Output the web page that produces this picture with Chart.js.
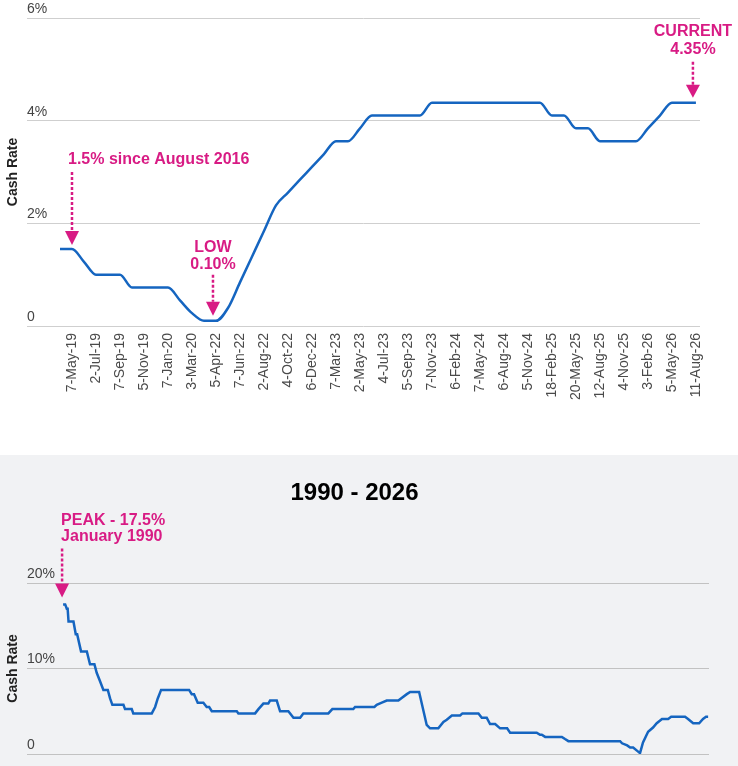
<!DOCTYPE html>
<html>
<head>
<meta charset="utf-8">
<title>Cash Rate</title>
<script src="https://cdn.jsdelivr.net/npm/chart.js@4.4.1/dist/chart.umd.min.js"></script>
<style>
  html, body { margin: 0; padding: 0; background: #fff; }
  #recent { position: relative; width: 738px; height: 455px; background: #fff; }
  #history { position: relative; width: 738px; height: 311px; background: #f1f2f4; }
</style>
</head>
<body>
<div id="recent"><canvas id="chartRecent"></canvas></div>
<div id="history"><canvas id="chartHistory"></canvas></div>
<script>
// meeting dates printed under the top chart (every second meeting)
const recentLabels = ['7-May-19', '2-Jul-19', '7-Sep-19', '5-Nov-19', '7-Jan-20', '3-Mar-20',
  '5-Apr-22', '7-Jun-22', '2-Aug-22', '4-Oct-22', '6-Dec-22', '7-Mar-23', '2-May-23',
  '4-Jul-23', '5-Sep-23', '7-Nov-23', '6-Feb-24', '7-May-24', '6-Aug-24', '5-Nov-24',
  '18-Feb-25', '20-May-25', '12-Aug-25', '4-Nov-25', '3-Feb-26', '5-May-26', '11-Aug-26'];
// cash rate at every meeting, half a label apart, starting one meeting before 7-May-19
const recentRates = [1.5, 1.5, 1.25, 1.0, 1.0, 1.0, 0.75, 0.75, 0.75, 0.75,
  0.5, 0.25, 0.1, 0.1, 0.35, 0.85, 1.35, 1.85, 2.35, 2.6,
  2.85, 3.1, 3.35, 3.6, 3.6, 3.85, 4.1, 4.1, 4.1, 4.1,
  4.1, 4.35, 4.35, 4.35, 4.35, 4.35, 4.35, 4.35, 4.35, 4.35,
  4.35, 4.1, 4.1, 3.85, 3.85, 3.6, 3.6, 3.6, 3.6, 3.85,
  4.1, 4.35, 4.35, 4.35];
const recentTicks = [0, 2, 4, 6];

// 1990 - 2026: position along the timeline (years) and rate
const historyPos = [1990.00, 1990.12, 1990.21, 1990.26, 1990.31, 1990.59, 1990.72, 1990.80, 1990.91, 1991.02,
  1991.35, 1991.53, 1991.78, 1991.91, 1992.10, 1992.29, 1992.54, 1992.67, 1992.80, 1993.43,
  1993.52, 1993.90, 1993.99, 1995.04, 1995.23, 1995.38, 1995.57, 1997.16, 1997.31, 1997.44,
  1997.65, 1997.97, 1998.16, 1998.30, 1998.45, 1999.87, 1999.96, 2000.91, 2001.10, 2001.38,
  2001.66, 2001.76, 2002.14, 2002.33, 2002.80, 2003.09, 2003.47, 2003.65, 2005.07, 2005.30,
  2006.49, 2006.59, 2007.69, 2007.82, 2008.11, 2008.39, 2009.05, 2009.20, 2009.53, 2009.72,
  2010.23, 2010.66, 2010.85, 2011.32, 2011.61, 2011.80, 2012.09, 2012.56, 2012.69, 2013.60,
  2013.79, 2014.07, 2014.26, 2014.55, 2014.83, 2015.23, 2015.40, 2016.91, 2017.10, 2017.20,
  2017.39, 2018.34, 2018.52, 2018.71, 2021.65, 2021.76, 2022.05, 2022.22, 2022.39, 2022.69,
  2022.78, 2022.95, 2023.24, 2023.52, 2023.73, 2024.03, 2024.38, 2024.55, 2025.34, 2025.51,
  2025.80, 2026.14, 2026.36, 2026.53, 2026.65];
const historyRates = [17.5, 17.5, 17.0, 17.0, 15.5, 15.5, 14.0, 14.0, 13.0, 12.0,
  12.0, 10.5, 10.5, 9.5, 8.5, 7.5, 7.5, 6.5, 5.75, 5.75,
  5.25, 5.25, 4.75, 4.75, 5.5, 6.5, 7.5, 7.5, 7.0, 7.0,
  6.0, 6.0, 5.5, 5.5, 5.0, 5.0, 4.75, 4.75, 5.25, 5.9,
  5.9, 6.25, 6.25, 5.0, 5.0, 4.25, 4.25, 4.75, 4.75, 5.25,
  5.25, 5.5, 5.5, 5.75, 6.0, 6.25, 6.25, 6.5, 7.0, 7.25,
  7.25, 3.4, 3.0, 3.0, 3.75, 4.0, 4.5, 4.5, 4.75, 4.75,
  4.25, 4.25, 3.5, 3.5, 3.0, 3.0, 2.5, 2.5, 2.25, 2.25,
  2.0, 2.0, 1.75, 1.5, 1.5, 1.25, 1.0, 0.75, 0.75, 0.25,
  0.1, 1.35, 2.6, 3.1, 3.6, 4.1, 4.1, 4.35, 4.35, 4.1,
  3.6, 3.6, 4.1, 4.35, 4.35];
const historyTicks = [0, 10, 20];

const FONT = '"Liberation Sans", Arial, sans-serif';
const LINE_BLUE = '#1565c0';
const PINK = '#d81b84';

// dotted arrows with bold notes, anchored on data values
const arrowNotes = {
  id: 'arrowNotes',
  afterDatasetsDraw(chart, args, opts) {
    const ctx = chart.ctx;
    const xs = chart.scales.x, ys = chart.scales.y;
    ctx.save();
    for (const n of opts.items) {
      const px = xs.getPixelForValue(n.x) + (n.dx || 0);
      const py = ys.getPixelForValue(n.y);
      const tip = py - n.gap;
      const headTop = tip - n.head;
      ctx.strokeStyle = PINK;
      ctx.lineWidth = 2.5;
      ctx.setLineDash([3, 2]);
      ctx.beginPath();
      ctx.moveTo(px, headTop - n.shaft);
      ctx.lineTo(px, headTop);
      ctx.stroke();
      ctx.setLineDash([]);
      ctx.fillStyle = PINK;
      ctx.beginPath();
      ctx.moveTo(px - 7, headTop);
      ctx.lineTo(px + 7, headTop);
      ctx.lineTo(px, tip);
      ctx.closePath();
      ctx.fill();
      ctx.font = 'bold 16px ' + FONT;
      ctx.textAlign = n.align;
      ctx.textBaseline = 'middle';
      const last = n.lines.length - 1;
      n.lines.forEach((line, i) => {
        ctx.fillText(line, px + (n.textDx || 0), py - n.textRise - (last - i) * (n.lineGap || 17));
      });
    }
    ctx.restore();
  }
};

function yAxis(min, max, ticks, gridColor) {
  return {
    min: min,
    max: max,
    afterBuildTicks: s => { s.ticks = ticks.map(v => ({ value: v })); },
    afterFit: s => { s.width = 27; },
    border: { display: false },
    grid: { color: gridColor, drawTicks: false },
    ticks: {
      mirror: true,
      padding: 0,
      labelOffset: -9,
      color: '#444',
      font: { family: FONT, size: 14 },
      callback: v => v === 0 ? '0' : v + '%'
    },
    title: {
      display: true,
      text: 'Cash Rate',
      color: '#222',
      font: { family: FONT, size: 14, weight: 'bold' },
      padding: { top: 5, bottom: 0 }
    }
  };
}

// top chart: recent meetings
new Chart(document.getElementById('chartRecent'), {
  type: 'line',
  data: {
    datasets: [{
      label: 'Cash Rate',
      data: recentRates.map((r, i) => ({ x: (i - 1) / 2, y: r })),
      borderColor: LINE_BLUE,
      borderWidth: 2.5,
      pointRadius: 0,
      cubicInterpolationMode: 'monotone',
      fill: false
    }]
  },
  options: {
    responsive: true,
    maintainAspectRatio: false,
    animation: false,
    layout: { padding: { top: 18, right: 38, left: 0, bottom: 0 } },
    plugins: {
      legend: { display: false },
      tooltip: { enabled: false },
      arrowNotes: {
        items: [
          { x: 0, y: 1.5, gap: 4, head: 14, shaft: 59, textRise: 89, textDx: -4, align: 'left',
            lines: ['1.5% since August 2016'] },
          { x: 6, y: 0.1, dx: -3, gap: 5, head: 14, shaft: 27, textRise: 56, lineGap: 17, align: 'center',
            lines: ['LOW', '0.10%'] },
          { x: 26, y: 4.35, dx: -3, gap: 5, head: 13, shaft: 23, textRise: 53, lineGap: 18, align: 'center',
            lines: ['CURRENT', '4.35%'] }
        ]
      }
    },
    scales: {
      x: {
        type: 'linear',
        min: -1.875,
        max: 26.17,
        afterBuildTicks: s => { s.ticks = recentLabels.map((_, i) => ({ value: i })); },
        afterFit: s => { s.height = 129; },
        border: { display: false },
        grid: { display: false, drawTicks: false },
        ticks: {
          autoSkip: false,
          minRotation: 90,
          maxRotation: 90,
          padding: 7,
          color: '#4a4a4a',
          font: { family: FONT, size: 14 },
          callback: v => recentLabels[v]
        }
      },
      y: yAxis(0, 6, recentTicks, '#cfcfcf')
    }
  },
  plugins: [arrowNotes]
});

// bottom chart: 1990 - 2026
new Chart(document.getElementById('chartHistory'), {
  type: 'line',
  data: {
    datasets: [{
      label: 'Cash Rate',
      data: historyPos.map((p, i) => ({ x: p, y: historyRates[i] })),
      borderColor: LINE_BLUE,
      borderWidth: 2.5,
      pointRadius: 0,
      tension: 0,
      fill: false
    }]
  },
  options: {
    responsive: true,
    maintainAspectRatio: false,
    animation: false,
    layout: { padding: { top: 0, right: 29, left: 0, bottom: 12 } },
    plugins: {
      legend: { display: false },
      tooltip: { enabled: false },
      title: {
        display: true,
        text: '1990 - 2026',
        color: '#000',
        font: { family: FONT, size: 24, weight: 'bold' },
        padding: { top: 24, bottom: 75.2 }
      },
      arrowNotes: {
        items: [
          { x: historyPos[0], y: historyRates[0], dx: -1, gap: 7, head: 14, shaft: 35, textRise: 68,
            lineGap: 16, textDx: -1, align: 'left', lines: ['PEAK - 17.5%', 'January 1990'] }
        ]
      }
    },
    scales: {
      x: { type: 'linear', min: 1987.95, max: 2026.7, display: false },
      y: yAxis(0, 20, historyTicks, '#c2c2c2')
    }
  },
  plugins: [arrowNotes]
});
</script>
</body>
</html>
